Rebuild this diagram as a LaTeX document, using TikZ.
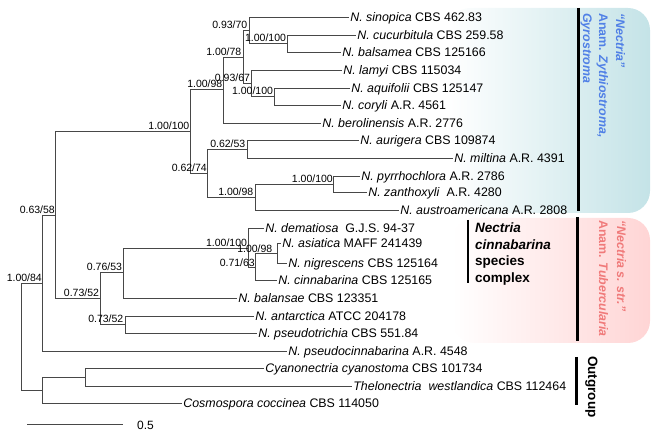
\documentclass[tikz,border=0pt]{standalone}
\usepackage{fontspec}
\setmainfont{Liberation Sans}
\definecolor{bluebox}{RGB}{196,227,231}
\definecolor{pinkbox}{RGB}{255,213,213}
\definecolor{bluetxt}{RGB}{80,128,230}
\definecolor{pinktxt}{RGB}{240,122,122}
\begin{document}
\begin{tikzpicture}[x=1pt,y=-1pt,
  br/.style={draw=black!72, line width=0.85pt},
  lf/.style={anchor=base west, inner sep=0pt, xshift=1.2pt, yshift=-4.4pt, font=\fontsize{12.4}{14}\selectfont},
  bs/.style={anchor=base east, inner sep=0pt, yshift=1.6pt, font=\fontsize{10.5}{12}\selectfont},
  barline/.style={line width=3pt, black},
  rottxt/.style={rotate=-90, anchor=base west, inner sep=0pt, font=\fontsize{12.4}{14}\selectfont\bfseries},
  cxtxt/.style={anchor=base west, inner sep=0pt, font=\fontsize{13.5}{16}\selectfont\bfseries},
]
\useasboundingbox (0,0) rectangle (654,435);

% shaded clade boxes
\shade[left color=white, right color=bluebox, rounded corners=22pt] (448,8) rectangle (650,213);
\shade[left color=white, right color=pinkbox, rounded corners=22pt] (452,218) rectangle (650,343);

% internal nodes
\coordinate (root) at (21,336);
\coordinate (A) at (42,283);
\coordinate (I) at (55,215);
\coordinate (N) at (190,131);
\coordinate (N1) at (223,89);
\coordinate (N2) at (243,57);
\coordinate (N3) at (249,30);
\coordinate (N4) at (287,43);
\coordinate (N5) at (251,83);
\coordinate (N6) at (274,96);
\coordinate (M) at (207,173);
\coordinate (M1) at (247,149);
\coordinate (M2) at (255,197);
\coordinate (M3) at (333,184);
\coordinate (S) at (100,298);
\coordinate (S1) at (123,272);
\coordinate (S2) at (248,248);
\coordinate (S3) at (255,267);
\coordinate (S4) at (277,253);
\coordinate (S5) at (125,324);
\coordinate (O) at (42,390);
\coordinate (O1) at (85,377);

% leaves
\coordinate (l1) at (349,17);
\coordinate (l2) at (356,35);
\coordinate (l3) at (341,52);
\coordinate (l4) at (342,70);
\coordinate (l5) at (350,88);
\coordinate (l6) at (341,105);
\coordinate (l7) at (321,123);
\coordinate (l8) at (359,140);
\coordinate (l9) at (453,158);
\coordinate (l10) at (360,176);
\coordinate (l11) at (367,192);
\coordinate (l12) at (399,210);
\coordinate (l13) at (264,228);
\coordinate (l14) at (281,243);
\coordinate (l15) at (287,263);
\coordinate (l16) at (277,280);
\coordinate (l17) at (237,298);
\coordinate (l18) at (254,316);
\coordinate (l19) at (257,333);
\coordinate (l20) at (287,351);
\coordinate (l21) at (264,368);
\coordinate (l22) at (352,386);
\coordinate (l23) at (182,403);

% branches
\draw[br] (root) |- (A);  \draw[br] (root) |- (O);
\draw[br] (A) |- (I);     \draw[br] (A) |- (l20);
\draw[br] (I) |- (N);     \draw[br] (I) |- (S);
\draw[br] (N) |- (N1);    \draw[br] (N) |- (M);
\draw[br] (N1) |- (N2);   \draw[br] (N1) |- (l7);
\draw[br] (N2) |- (N3);   \draw[br] (N2) |- (N5);
\draw[br] (N3) |- (l1);   \draw[br] (N3) |- (N4);
\draw[br] (N4) |- (l2);   \draw[br] (N4) |- (l3);
\draw[br] (N5) |- (l4);   \draw[br] (N5) |- (N6);
\draw[br] (N6) |- (l5);   \draw[br] (N6) |- (l6);
\draw[br] (M) |- (M1);    \draw[br] (M) |- (M2);
\draw[br] (M1) |- (l8);   \draw[br] (M1) |- (l9);
\draw[br] (M2) |- (M3);   \draw[br] (M2) |- (l12);
\draw[br] (M3) |- (l10);  \draw[br] (M3) |- (l11);
\draw[br] (S) |- (S1);    \draw[br] (S) |- (S5);
\draw[br] (S1) |- (S2);   \draw[br] (S1) |- (l17);
\draw[br] (S2) |- (l13);  \draw[br] (S2) |- (S3);
\draw[br] (S3) |- (S4);   \draw[br] (S3) |- (l16);
\draw[br] (S4) |- (l14);  \draw[br] (S4) |- (l15);
\draw[br] (S5) |- (l18);  \draw[br] (S5) |- (l19);
\draw[br] (O) |- (O1);    \draw[br] (O) |- (l23);
\draw[br] (O1) |- (l21);  \draw[br] (O1) |- (l22);

% support values
\node[bs] (bA) at (A) {1.00/84};
\node[bs] (bI) at (I) {0.63/58};
\node[bs, xshift=-0.5pt] (bN) at (N) {1.00/100};
\node[bs, xshift=-0.5pt] (bN1) at (N1) {1.00/98};
\node[bs, xshift=-1.5pt] (bN2) at (N2) {1.00/78};
\node[bs, xshift=-1.5pt] (bN3) at (N3) {0.93/70};
\node[bs, xshift=-0.8pt] (bN4) at (N4) {1.00/100};
\node[bs, xshift=-0.8pt] (bN5) at (N5) {0.93/67};
\node[bs, xshift=-0.8pt] (bN6) at (N6) {1.00/100};
\node[bs] (bM) at (M) {0.62/74};
\node[bs, xshift=-1.5pt] (bM1) at (M1) {0.62/53};
\node[bs, xshift=-1.5pt] (bM2) at (M2) {1.00/98};
\node[bs] (bM3) at (M3) {1.00/100};
\node[bs, xshift=-0.8pt] (bS) at (S) {0.73/52};
\node[bs, xshift=-0.8pt] (bS1) at (S1) {0.76/53};
\node[bs, xshift=-0.8pt] (bS2) at (S2) {1.00/100};
\node[bs, yshift=-1.2pt] (bS3) at (S3) {0.71/63};
\node[bs, xshift=-4.5pt, yshift=-1.2pt] (bS4) at (S4) {1.00/98};
\node[bs, xshift=-1.5pt] (bS5) at (S5) {0.73/52};

% leaf labels
\node[lf] (t1) at (l1) {\textit{N. sinopica} CBS 462.83};
\node[lf] (t2) at (l2) {\textit{N. cucurbitula} CBS 259.58};
\node[lf] (t3) at (l3) {\textit{N. balsamea} CBS 125166};
\node[lf] (t4) at (l4) {\textit{N. lamyi} CBS 115034};
\node[lf] (t5) at (l5) {\textit{N. aquifolii} CBS 125147};
\node[lf] (t6) at (l6) {\textit{N. coryli} A.R. 4561};
\node[lf] (t7) at (l7) {\textit{N. berolinensis} A.R. 2776};
\node[lf] (t8) at (l8) {\textit{N. aurigera} CBS 109874};
\node[lf] (t9) at (l9) {\textit{N. miltina} A.R. 4391};
\node[lf] (t10) at (l10) {\textit{N. pyrrhochlora} A.R. 2786};
\node[lf] (t11) at (l11) {\textit{N. zanthoxyli}\ \ A.R. 4280};
\node[lf] (t12) at (l12) {\textit{N. austroamericana} A.R. 2808};
\node[lf] (t13) at (l13) {\textit{N. dematiosa}\ \ G.J.S. 94-37};
\node[lf] (t14) at (l14) {\textit{N. asiatica} MAFF 241439};
\node[lf] (t15) at (l15) {\textit{N. nigrescens} CBS 125164};
\node[lf] (t16) at (l16) {\textit{N. cinnabarina} CBS 125165};
\node[lf] (t17) at (l17) {\textit{N. balansae} CBS 123351};
\node[lf] (t18) at (l18) {\textit{N. antarctica} ATCC 204178};
\node[lf] (t19) at (l19) {\textit{N. pseudotrichia} CBS 551.84};
\node[lf] (t20) at (l20) {\textit{N. pseudocinnabarina} A.R. 4548};
\node[lf] (t21) at (l21) {\textit{Cyanonectria cyanostoma} CBS 101734};
\node[lf] (t22) at (l22) {\textit{Thelonectria}\ \ \textit{westlandica} CBS 112464};
\node[lf] (t23) at (l23) {\textit{Cosmospora coccinea} CBS 114050};

% clade bars
\coordinate (b1t) at (578,8);   \coordinate (b1b) at (578,211);
\coordinate (b2t) at (577,217); \coordinate (b2b) at (577,341);
\coordinate (b3t) at (576,357); \coordinate (b3b) at (576,405);
\coordinate (b4t) at (468,220); \coordinate (b4b) at (468,283);
\draw[barline] (b1t) -- (b1b);
\draw[barline] (b2t) -- (b2b);
\draw[barline] (b3t) -- (b3b);
\draw[line width=2.6pt] (b4t) -- (b4b);

% clade texts
\node[rottxt, text=bluetxt] (c1a) at (616,13) {\textit{“Nectria”}};
\node[rottxt, text=bluetxt] (c1b) at (599,13) {Anam. \textit{Zythiostroma,}};
\node[rottxt, text=bluetxt] (c1c) at (583,13) {\textit{Gyrostroma}};
\node[rottxt, text=pinktxt] (c2a) at (617,220) {\textit{“Nectria s. str.”}};
\node[rottxt, text=pinktxt] (c2b) at (599,220) {Anam. \textit{Tubercularia}};
\node[rottxt, font=\fontsize{13.5}{15}\selectfont\bfseries] (c3) at (588,356) {Outgroup};

\node[cxtxt] (cx1) at (475,233) {\textit{Nectria}};
\node[cxtxt] (cx2) at (475,249.5) {\textit{cinnabarina}};
\node[cxtxt] (cx3) at (475,266) {species};
\node[cxtxt] (cx4) at (475,283) {complex};

% scale bar
\coordinate (sb1) at (27,424);
\coordinate (sb2) at (123,424);
\draw[br] (sb1) -- (sb2);
\node[anchor=base west, inner sep=0pt, font=\fontsize{12}{14}\selectfont] (sbl) at (137,429.5) {0.5};
\end{tikzpicture}
\end{document}
